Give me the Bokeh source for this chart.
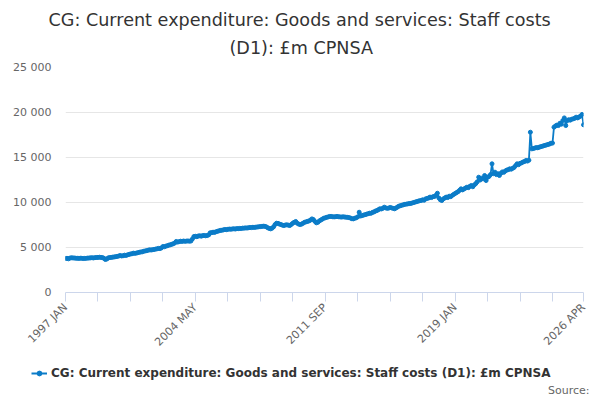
from bokeh.plotting import figure
from bokeh.layouts import column
from bokeh.models import (ColumnDataSource, FixedTicker, Legend, LegendItem,
                          CustomJSTickFormatter, Title, Label, Range1d)
from bokeh.embed import file_html
from bokeh.resources import INLINE

BLUE = "#0b7cc8"
FONT = "DejaVu Sans"

MONTHS = ["JAN", "FEB", "MAR", "APR", "MAY", "JUN",
          "JUL", "AUG", "SEP", "OCT", "NOV", "DEC"]

# monthly values, £m
y1997 = [3780, 3800, 3740, 3820, 3860, 3840, 3830, 3810, 3800, 3790, 3810, 3800]
y1998 = [3780, 3790, 3800, 3820, 3830, 3850, 3860, 3840, 3870, 3890, 3900, 3920]
y1999 = [3900, 3880, 3810, 3670, 3720, 3850, 3880, 3900, 3930, 3950, 3980, 4010]
y2000 = [4050, 4110, 4060, 4080, 4150, 4120, 4180, 4230, 4280, 4300, 4370, 4350]
y2001 = [4380, 4420, 4470, 4500, 4520, 4580, 4620, 4650, 4700, 4740, 4720, 4760]
y2002 = [4780, 4820, 4850, 4900, 4880, 4950, 5110, 5080, 5150, 5200, 5260, 5300]
y2003 = [5350, 5420, 5500, 5670, 5600, 5650, 5700, 5680, 5720, 5690, 5710, 5730]
y2004 = [5700, 5720, 5950, 6220, 6250, 6200, 6280, 6300, 6260, 6320, 6340, 6300]
y2005 = [6330, 6400, 6630, 6650, 6700, 6680, 6750, 6800, 6850, 6900, 6920, 6960]
y2006 = [7000, 6980, 7020, 7050, 7030, 7060, 7080, 7050, 7100, 7090, 7120, 7110]
y2007 = [7150, 7150, 7180, 7160, 7200, 7220, 7210, 7250, 7230, 7260, 7280, 7300]
y2008 = [7320, 7340, 7370, 7350, 7300, 7200, 7120, 7070, 7150, 7300, 7550, 7700]
y2009 = [7680, 7600, 7550, 7480, 7440, 7500, 7520, 7480, 7440, 7560, 7700, 7800]
y2010 = [7890, 7700, 7600, 7550, 7600, 7700, 7800, 7850, 7900, 7950, 8050, 8180]
y2011 = [8100, 7900, 7740, 7800, 7950, 8050, 8150, 8250, 8300, 8350, 8400, 8450]
y2012 = [8450, 8420, 8400, 8430, 8450, 8420, 8400, 8380, 8410, 8390, 8370, 8350]
y2013 = [8320, 8280, 8200, 8180, 8250, 8300, 8400, 8920, 8500, 8550, 8600, 8650]
y2014 = [8700, 8750, 8810, 8800, 8900, 8950, 9050, 9100, 9200, 9300, 9280, 9350]
y2015 = [9480, 9400, 9350, 9380, 9450, 9400, 9350, 9300, 9400, 9500, 9600, 9650]
y2016 = [9700, 9750, 9800, 9820, 9850, 9880, 9900, 9950, 10000, 10050, 10100, 10150]
y2017 = [10200, 10220, 10300, 10250, 10400, 10450, 10500, 10600, 10550, 10650, 10670, 10800]
y2018 = [11030, 10500, 10300, 10220, 10400, 10500, 10600, 10550, 10700, 10650, 10780, 10900]
y2019 = [11000, 11100, 11200, 11350, 11520, 11400, 11500, 11600, 11700, 11650, 11800, 11890]
y2020 = [11750, 11950, 12100, 12300, 12810, 12500, 12700, 12630, 13000, 12440, 12800, 12900]
y2021 = [13100, 14300, 13200, 13370, 13100, 13200, 13000, 13250, 13400, 13350, 13500, 13600]
y2022 = [13650, 13740, 13700, 13800, 13900, 14100, 14300, 14200, 14350, 14400, 14500, 14550]
y2023 = [14670, 14600, 14700, 17810, 15960, 16000, 16050, 16100, 16080, 16150, 16200, 16250]
y2024 = [16300, 16350, 16400, 16450, 16500, 16590, 16600, 18370, 18500, 18600, 18550, 18800]
y2025 = [18700, 19110, 19400, 18550, 19100, 19200, 19150, 19250, 19300, 19350, 19480, 19400]
y2026 = [19500, 19600, 19780, 18630]

years = [y1997, y1998, y1999, y2000, y2001, y2002, y2003, y2004, y2005, y2006,
         y2007, y2008, y2009, y2010, y2011, y2012, y2013, y2014, y2015, y2016,
         y2017, y2018, y2019, y2020, y2021, y2022, y2023, y2024, y2025, y2026]

labels = []
values = []
for i, yr in enumerate(years):
    for m, v in enumerate(yr):
        labels.append(f"{1997 + i} {MONTHS[m]}")
        values.append(v)

tick_labels = ["1997 JAN", "2004 MAY", "2011 SEP", "2019 JAN", "2026 APR"]
y_ticks = [0, 5000, 10000, 15000, 20000, 25000]
title_lines = ["CG: Current expenditure: Goods and services: Staff costs",
               "(D1): £m CPNSA"]
series_name = "CG: Current expenditure: Goods and services: Staff costs (D1): £m CPNSA"

W = 600
H_MAIN = 360
H_FOOT = 40

src = ColumnDataSource(data=dict(x=list(range(len(values))), y=values))

p = figure(width=W, height=H_MAIN, output_backend="svg", toolbar_location=None,
           x_range=(0, len(values) - 1), y_range=(0, 25000),
           min_border_left=65, min_border_right=17, min_border_top=67,
           min_border_bottom=68)
p.frame_align = False

# two title lines, second one added first so it sits nearest the frame
p.add_layout(Title(text=title_lines[1], align="left", text_font=FONT,
                   text_font_size="17.6px", text_font_style="normal",
                   text_color="#333333", standoff=19, offset=164), "above")
p.add_layout(Title(text=title_lines[0], align="left", text_font=FONT,
                   text_font_size="17.6px", text_font_style="normal",
                   text_color="#333333", standoff=-6, offset=-17), "above")

p.outline_line_color = None

l = p.line("x", "y", source=src, color=BLUE, line_width=1.8)
c = p.scatter("x", "y", source=src, color=BLUE, size=4)

major = [labels.index(t) for t in tick_labels]
minor = [i for i in range(22, len(values), 22) if i not in major]
p.xaxis.ticker = FixedTicker(ticks=major, minor_ticks=minor)
p.xaxis.major_label_overrides = {i: t for i, t in zip(major, tick_labels)}
p.xaxis.major_label_orientation = 0.785
p.xaxis.major_label_text_font = FONT
p.xaxis.major_label_text_font_size = "11px"
p.xaxis.major_label_text_color = "#666666"
p.xaxis.axis_line_color = "#ccd6eb"
p.xaxis.major_tick_line_color = "#ccd6eb"
p.xaxis.minor_tick_line_color = "#ccd6eb"
p.xaxis.major_tick_in = 0
p.xaxis.major_tick_out = 9
p.xaxis.minor_tick_in = 0
p.xaxis.minor_tick_out = 9
p.xaxis.major_label_standoff = 4

p.yaxis.ticker = FixedTicker(ticks=y_ticks, minor_ticks=[])
p.yaxis.formatter = CustomJSTickFormatter(
    code="return tick.toString().replace(/\\B(?=(\\d{3})+(?!\\d))/g, ' ');")
p.yaxis.major_label_text_font = FONT
p.yaxis.major_label_text_font_size = "11px"
p.yaxis.major_label_text_color = "#666666"
p.yaxis.axis_line_color = None
p.yaxis.major_tick_line_color = None
p.yaxis.minor_tick_line_color = None
p.yaxis.major_label_standoff = 8

p.xgrid.grid_line_color = None
p.ygrid.grid_line_color = "#e6e6e6"
p.ygrid.ticker = FixedTicker(ticks=y_ticks)

# footer strip holding the legend and the source note; its renderers share the
# series source but fall outside this strip's ranges, so only the key shows
foot = figure(width=W, height=H_FOOT, output_backend="svg", toolbar_location=None,
              x_range=Range1d(0, W), y_range=Range1d(0, H_FOOT),
              min_border=0, min_border_left=0, min_border_right=0,
              min_border_top=0, min_border_bottom=0)
foot.frame_align = False
foot.axis.visible = False
foot.grid.grid_line_color = None
foot.outline_line_color = None
fl = foot.line("x", "y", source=src, color=BLUE, line_width=2)
fc = foot.scatter("x", "y", source=src, color=BLUE, size=4)

legend = Legend(items=[LegendItem(label=series_name, renderers=[fl, fc])],
                orientation="horizontal", location=(31, 20),
                label_text_font=FONT, label_text_font_size="12px",
                label_text_font_style="bold", label_text_color="#333333",
                glyph_width=16, glyph_height=12, label_standoff=4,
                border_line_color=None, background_fill_alpha=0,
                padding=2, margin=0, spacing=0)
foot.add_layout(legend, "center")

foot.add_layout(Label(x=589, y=10, text="Source:", text_align="right",
                      text_baseline="middle", text_font=FONT,
                      text_font_size="11px", text_color="#666666"))

open("out.html", "w").write(file_html(column(p, foot), INLINE))
